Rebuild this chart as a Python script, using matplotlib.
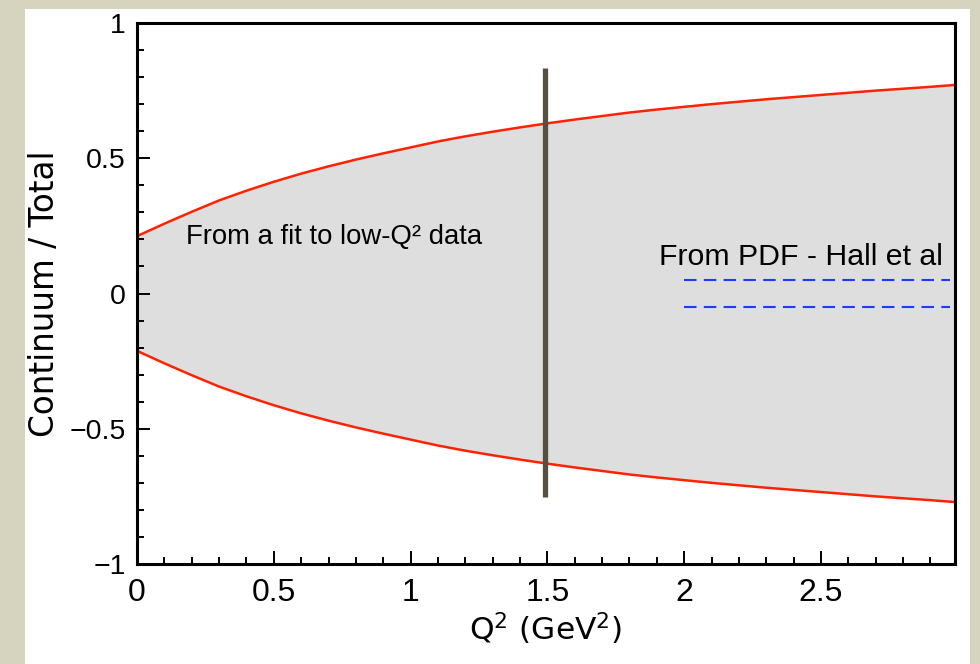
import matplotlib
matplotlib.use("Agg")
import matplotlib.pyplot as plt
from matplotlib.patches import Rectangle
from matplotlib.ticker import MultipleLocator

# band edges (upper edge; lower edge is the mirror)
Q2 = [0.0, 0.1, 0.2, 0.3, 0.4, 0.5, 0.6, 0.7, 0.8, 0.9, 1.0,
      1.1, 1.2, 1.3, 1.4, 1.5, 1.6, 1.7, 1.8, 1.9, 2.0,
      2.1, 2.2, 2.3, 2.4, 2.5, 2.6, 2.7, 2.8, 2.9, 2.99]
UPPER = [0.212, 0.258, 0.302, 0.344, 0.380, 0.413, 0.443, 0.470, 0.495, 0.518, 0.540,
         0.562, 0.581, 0.598, 0.614, 0.629, 0.643, 0.656, 0.669, 0.680, 0.690,
         0.700, 0.709, 0.718, 0.726, 0.734, 0.742, 0.750, 0.757, 0.764, 0.771]
LOWER = [-v for v in UPPER]

CUT_X = 1.49
CUT_Y = [-0.752, 0.834]

PDF_X = [2.0, 2.97]
PDF_Y = [0.05, -0.05]

FIT_LABEL = "From a fit to low-Q\u00b2 data"
PDF_LABEL = "From PDF - Hall et al"

fig = plt.figure(figsize=(9.8, 6.64), dpi=100)
fig.patch.set_facecolor("#d6d3be")
# white panel behind the plot
fig.patches.append(Rectangle((25 / 980, 0), 945 / 980, 655 / 664,
                             transform=fig.transFigure, facecolor="white",
                             edgecolor="none", zorder=-5))

ax = fig.add_axes([137 / 980, 100 / 664, 818 / 980, 541 / 664])
ax.set_zorder(2)
ax.set_facecolor("white")

ax.fill_between(Q2, LOWER, UPPER, color="#dedede", lw=0, zorder=1)
ax.plot(Q2, UPPER, color="#ff2200", lw=1.8, zorder=2)
ax.plot(Q2, LOWER, color="#ff2200", lw=1.8, zorder=2)

ax.plot([CUT_X, CUT_X], CUT_Y, color="#555040", lw=3.8, solid_capstyle="butt", zorder=3)

for y in PDF_Y:
    ax.plot(PDF_X, [y, y], color="#1a3cff", lw=1.5, dashes=(6, 3.5), zorder=3)

ax.text(0.179, 0.209, FIT_LABEL, fontsize=19.8, family="Liberation Sans",
        ha="left", va="center", zorder=4)
ax.text(2.946, 0.136, PDF_LABEL, fontsize=21.8, family="Liberation Sans",
        ha="right", va="center", zorder=4)

ax.set_xlim(0, 2.99)
ax.set_ylim(-1, 1)
ax.xaxis.set_minor_locator(MultipleLocator(0.1))
ax.yaxis.set_minor_locator(MultipleLocator(0.1))
ax.set_xticks([0, 0.5, 1, 1.5, 2, 2.5])
ax.set_xticklabels(["0", "0.5", "1", "1.5", "2", "2.5"])
ax.set_yticks([-1, -0.5, 0, 0.5, 1])
ax.set_yticklabels(["\u22121", "\u22120.5", "0", "0.5", "1"])

ax.tick_params(which="both", direction="in", top=False, right=False, width=1.4)
ax.tick_params(which="major", length=9.5)
ax.tick_params(axis="x", which="major", pad=10, labelsize=23)
ax.tick_params(axis="y", which="major", pad=8, labelsize=20.5)
ax.tick_params(which="minor", length=5)
for lab in ax.get_xticklabels() + ax.get_yticklabels():
    lab.set_family("Liberation Sans")
for sp in ax.spines.values():
    sp.set_linewidth(2.2)

ax.set_xlabel("Q$^2$ (GeV$^2$)", fontsize=22.5, family="DejaVu Sans", labelpad=2)
ax.set_ylabel("Continuum / Total", fontsize=23.5, family="DejaVu Sans", labelpad=6)

fig.savefig("out.png", dpi=100, facecolor=fig.get_facecolor())
